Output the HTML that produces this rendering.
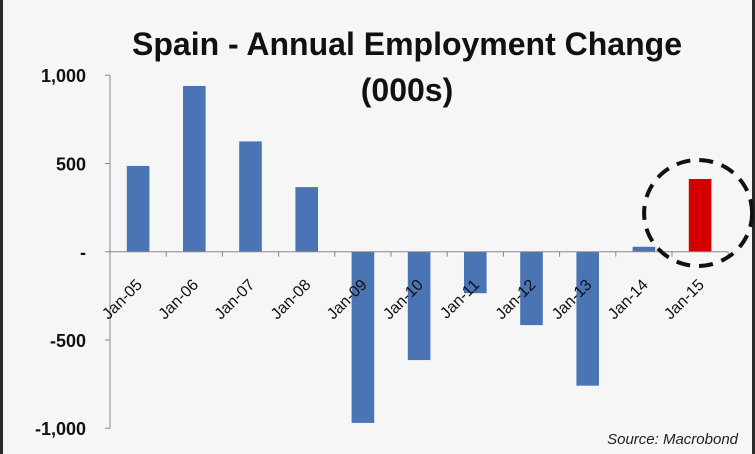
<!DOCTYPE html>
<html><head><meta charset="utf-8"><style>
html,body{margin:0;padding:0;background:#2a2a2a;}
svg{display:block;font-family:"Liberation Sans",sans-serif;}
</style></head><body>
<svg id="chart" width="755" height="454">
<rect x="3" y="0" width="749" height="454" fill="#f6f6f6"/>
<text x="407" y="55" text-anchor="middle" font-size="32" font-weight="bold" fill="#111">Spain - Annual Employment Change</text>
<text x="407" y="101" text-anchor="middle" font-size="32" font-weight="bold" fill="#111">(000s)</text>
<g id="plot"></g>
<text x="738" y="444" text-anchor="end" font-size="15" font-style="italic" fill="#222">Source: Macrobond</text>
</svg>
<script>
const categories=["Jan-05","Jan-06","Jan-07","Jan-08","Jan-09","Jan-10","Jan-11","Jan-12","Jan-13","Jan-14","Jan-15"];
const values=[486,939,625,366,-970,-614,-235,-416,-759,28,412];
const yTicks=[1000,500,0,-500,-1000];
const yTickLabels=["1,000","500","-","-500","-1,000"];
const highlightIndex=10;
const NS="http://www.w3.org/2000/svg";
const g=document.getElementById("plot");
const x0=110,step=56.2,zeroY=251.7,scale=176.5/1000;
const y=v=>zeroY-v*scale;
const xc=i=>x0+step*(i+0.5);
function mk(t,a){const e=document.createElementNS(NS,t);for(const k in a)e.setAttribute(k,a[k]);g.appendChild(e);return e;}
let e=mk("line",{x1:x0,x2:x0,y1:y(1000),y2:y(-1000),stroke:"#888","stroke-width":1});


yTicks.forEach((v,i)=>{
 let t=mk("line",{x1:x0-5,x2:x0,y1:y(v),y2:y(v),stroke:"#888"});
 
 
 let l=mk("text",{x:86,y:y(v)+7,"text-anchor":"end","font-size":18,"font-weight":"bold",fill:"#111"});
 l.textContent=yTickLabels[i];
 
 
});
values.forEach((v,i)=>{
 let top=Math.min(y(v),zeroY),h=Math.abs(y(v)-zeroY);
 let b=mk("rect",{x:xc(i)-11.3,y:top,width:22.6,height:h,fill:i===highlightIndex?"#d40000":"#4a74b4"});
 
 
});
e=mk("line",{x1:x0,x2:x0+step*categories.length,y1:zeroY,y2:zeroY,stroke:"#888","stroke-width":1});


categories.forEach((c,i)=>{
 let t=mk("line",{x1:x0+step*(i+1),x2:x0+step*(i+1),y1:zeroY,y2:zeroY+5,stroke:"#888"});
 
 
 let cx=xc(i)+5,cy=zeroY+34;
 let l=mk("text",{x:cx,y:cy,"text-anchor":"end","font-size":16,fill:"#111",transform:`rotate(-45 ${cx} ${cy})`});
 l.textContent=c;
 
 
});
let c=mk("ellipse",{cx:xc(highlightIndex)-2,cy:213,rx:54,ry:53,fill:"none",stroke:"#111","stroke-width":4,"stroke-dasharray":"14 9"});


</script>
</body></html>
